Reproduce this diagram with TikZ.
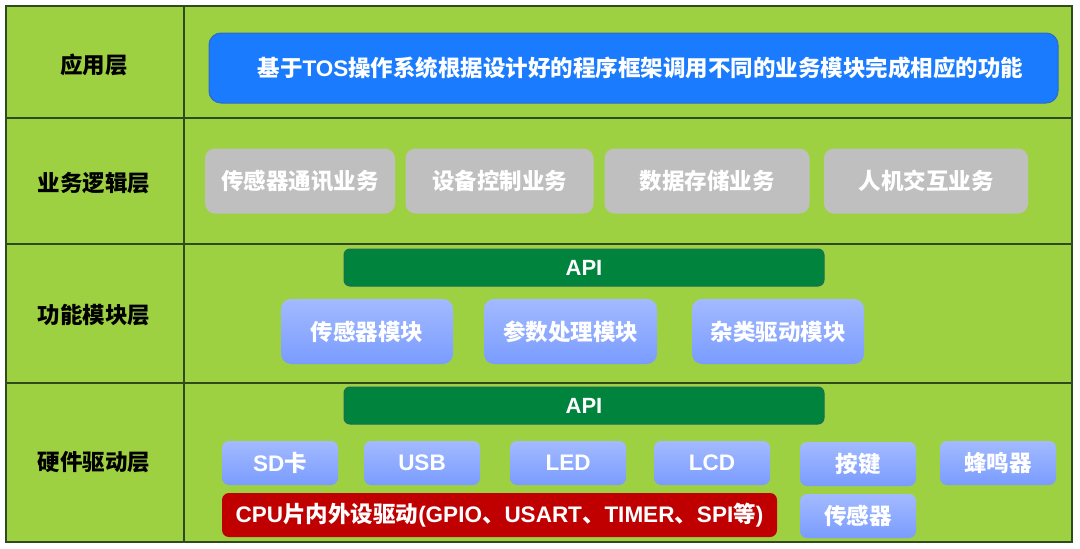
\documentclass[tikz,border=0pt]{standalone}
\usepackage{fontspec}
\setmainfont{Liberation Sans}
\newfontfamily\cjk{Noto Sans CJK SC}
\newcommand\zh[1]{{\cjk\bfseries #1}}
\definecolor{bggreen}{HTML}{9ED142}
\definecolor{gridline}{HTML}{2F4A1C}
\definecolor{appblue}{HTML}{1A7BFF}
\definecolor{appblueline}{HTML}{2A6AC8}
\definecolor{svcgray}{HTML}{BFBFBF}
\definecolor{apigreen}{HTML}{00843D}
\definecolor{apiline}{HTML}{1E6A58}
\definecolor{modtop}{HTML}{A3BAFF}
\definecolor{modbot}{HTML}{7A9CFF}
\definecolor{cpured}{HTML}{C00000}
\begin{document}
\begin{tikzpicture}[x=1pt,y=-1pt,
  txt/.style={font=\bfseries\fontsize{22.5}{27}\selectfont},
  layerlbl/.style={txt, text=black},
  appbox/.style={txt, text=white, draw=appblueline, line width=1pt, fill=appblue, rounded corners=12pt, inner sep=0pt},
  svcbox/.style={txt, text=white, fill=svcgray, rounded corners=10pt, inner sep=0pt, minimum height=65pt},
  apibox/.style={txt, font=\bfseries\fontsize{22}{26}\selectfont, text=white, fill=apigreen, draw=apiline, line width=1pt, rounded corners=6pt, inner sep=0pt, minimum width=480pt, minimum height=37pt},
  modbox/.style={txt, text=white, top color=modtop, bottom color=modbot, rounded corners=10pt, inner sep=0pt, minimum height=65pt},
  hwbox/.style={txt, text=white, top color=modtop, bottom color=modbot, rounded corners=7pt, inner sep=0pt, minimum width=116pt, minimum height=44pt},
  cpubox/.style={txt, text=white, fill=cpured, rounded corners=7pt, inner sep=0pt, minimum width=555pt, minimum height=44pt}
]
\useasboundingbox (0,0) rectangle (1080,549);
\fill[white] (0,0) rectangle (1080,549);
% table
\fill[bggreen] (6,6) rectangle (1072,542);
\draw[gridline, line width=1.1pt] (6,6) rectangle (1072,542);
\draw[gridline, line width=1.1pt] (184,6) -- (184,542);
\draw[gridline, line width=1.1pt] (6,118) -- (1072,118);
\draw[gridline, line width=1.1pt] (6,244) -- (1072,244);
\draw[gridline, line width=1.1pt] (6,383) -- (1072,383);
% layer labels
\node[layerlbl] (l1) at (94,65) {\zh{应用层}};
\node[layerlbl] (l2) at (94,183) {\zh{业务逻辑层}};
\node[layerlbl] (l3) at (94,315) {\zh{功能模块层}};
\node[layerlbl] (l4) at (94,462) {\zh{硬件驱动层}};
% application
\node[appbox, minimum width=849pt, minimum height=70pt] (app) at (633.5,68) {\hspace*{14pt}\zh{基于}TOS\zh{操作系统根据设计好的程序框架调用不同的业务模块完成相应的功能}};
% services
\node[svcbox, minimum width=190pt] (s1) at (300,181) {\zh{传感器通讯业务}};
\node[svcbox, minimum width=188pt] (s2) at (499.5,181) {\zh{设备控制业务}};
\node[svcbox, minimum width=205pt] (s3) at (707,181) {\zh{数据存储业务}};
\node[svcbox, minimum width=204pt] (s4) at (926,181) {\zh{人机交互业务}};
% function modules
\node[apibox] (api1) at (584,267.5) {API};
\node[modbox, minimum width=172pt] (m1) at (367,331.5) {\zh{传感器模块}};
\node[modbox, minimum width=173pt] (m2) at (570.5,331.5) {\zh{参数处理模块}};
\node[modbox, minimum width=172pt] (m3) at (778,331.5) {\zh{杂类驱动模块}};
% hardware drivers
\node[apibox] (api2) at (584,405.5) {API};
\node[hwbox] (h1) at (280,463) {SD\zh{卡}};
\node[hwbox] (h2) at (422,463) {USB};
\node[hwbox] (h3) at (568,463) {LED};
\node[hwbox] (h4) at (712,463) {LCD};
\node[hwbox] (h5) at (858,464) {\zh{按键}};
\node[hwbox] (h6) at (998,463) {\zh{蜂鸣器}};
\node[cpubox] (cpu) at (499.5,515) {CPU\zh{片内外设驱动}(GPIO\zh{、}USART\zh{、}TIMER\zh{、}SPI\zh{等})};
\node[hwbox] (h7) at (858,516) {\zh{传感器}};
\end{tikzpicture}
\end{document}
